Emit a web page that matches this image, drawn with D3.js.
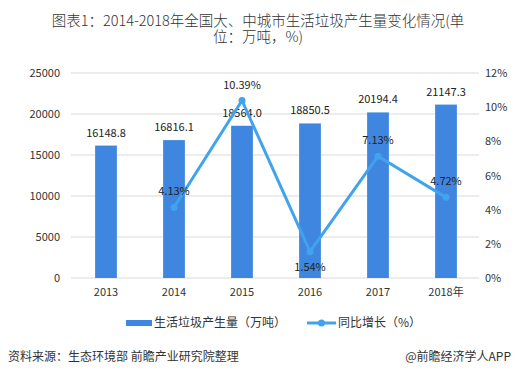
<!DOCTYPE html>
<html><head><meta charset="utf-8">
<script src="https://cdn.jsdelivr.net/npm/d3@7"></script>
<style>body{margin:0;background:#fff;}svg{display:block;font-family:"Microsoft YaHei","Noto Sans CJK SC",sans-serif;}</style>
</head><body>
<svg id="c" width="517" height="380"></svg>
<script>
const categories = ["2013","2014","2015","2016","2017","2018年"];
const garbage = [16148.8,16816.1,18564.0,18850.5,20194.4,21147.3];
const growth = [null,4.13,10.39,1.54,7.13,4.72];
const leftTicks = [0,5000,10000,15000,20000,25000];
const rightTicks = [0,2,4,6,8,10,12];
const titleLines = ["图表1：2014-2018年全国大、中城市生活垃圾产生量变化情况(单","位：万吨，%)"];
const growthLabelPos = [null,"above","above","below","above","above"];

const svg = d3.select("#c");
const x = d3.scaleBand().domain(categories).range([72,480]).paddingInner(0.68).paddingOuter(0.34);
const yL = d3.scaleLinear().domain([0,25000]).range([278,73]);
const yR = d3.scaleLinear().domain([0,12]).range([278,73]);
const FONT = "'Microsoft YaHei','Noto Sans CJK SC',sans-serif";

// title
svg.append("g").selectAll("text").data(titleLines).join("text")
  .attr("x",258).attr("y",(d,i)=>26+i*16)
  .attr("text-anchor","middle").attr("fill","#333").attr("font-size",14.5).attr("font-weight",300)
  .text(d=>d);

// grid
svg.append("g").selectAll("line").data(leftTicks).join("line")
  .attr("x1",71).attr("x2",479).attr("y1",d=>yL(d)).attr("y2",d=>yL(d))
  .attr("stroke","#d9d9d9").attr("stroke-width",1);

// left axis
const la = svg.append("g").attr("transform","translate(60,0)")
  .call(d3.axisLeft(yL).tickValues(leftTicks).tickFormat(d3.format("d")).tickSize(0).tickPadding(0));
la.select(".domain").remove();
la.selectAll("text").attr("font-size",11).attr("fill","#333").attr("font-family",FONT);

// right axis
const ra = svg.append("g").attr("transform","translate(485,0)")
  .call(d3.axisRight(yR).tickValues(rightTicks).tickFormat(d=>d+"%").tickSize(0).tickPadding(0));
ra.select(".domain").remove();
ra.selectAll("text").attr("font-size",11).attr("fill","#333").attr("font-family",FONT);

// x labels
const xa = svg.append("g").attr("transform","translate(0,283)")
  .call(d3.axisBottom(x).tickSize(0).tickPadding(5));
xa.select(".domain").remove();
xa.selectAll("text").attr("font-size",11).attr("fill","#333").attr("font-family",FONT);

const barColor = "#3f86e0", lineColor = "#41a3ec";

// bars
svg.append("g").selectAll("rect").data(garbage).join("rect")
  .attr("x",(d,i)=>x(categories[i])).attr("width",x.bandwidth())
  .attr("y",d=>yL(d)).attr("height",d=>yL(0)-yL(d)).attr("fill",barColor);
svg.append("g").selectAll("text").data(garbage).join("text")
  .attr("x",(d,i)=>x(categories[i])+x.bandwidth()/2).attr("y",d=>yL(d)-9)
  .attr("text-anchor","middle").attr("font-size",11).attr("fill","#222")
  .text(d=>d.toFixed(1));

// line
const pts = growth.map((v,i)=>({v,i})).filter(d=>d.v!==null);
const cx = d=>x(categories[d.i])+x.bandwidth()/2;
svg.append("path").datum(pts)
  .attr("d",d3.line().x(cx).y(d=>yR(d.v)))
  .attr("fill","none").attr("stroke",lineColor).attr("stroke-width",3).attr("stroke-linejoin","round");
svg.append("g").selectAll("circle").data(pts).join("circle")
  .attr("cx",cx).attr("cy",d=>yR(d.v)).attr("r",3.5).attr("fill",lineColor);
svg.append("g").selectAll("text").data(pts).join("text")
  .attr("x",cx).attr("y",d=>growthLabelPos[d.i]==="below"?yR(d.v)+19:yR(d.v)-12)
  .attr("text-anchor","middle").attr("font-size",11).attr("fill","#222")
  .text(d=>d.v.toFixed(2)+"%");

// legend
const lg = svg.append("g");
lg.append("rect").attr("x",126).attr("y",320).attr("width",26).attr("height",6).attr("fill",barColor);
lg.append("text").attr("x",154).attr("y",327).attr("font-size",12).attr("fill","#333").text("生活垃圾产生量（万吨）");
lg.append("line").attr("x1",307).attr("x2",336).attr("y1",323).attr("y2",323).attr("stroke",lineColor).attr("stroke-width",3);
lg.append("circle").attr("cx",321.5).attr("cy",323).attr("r",3.5).attr("fill",lineColor);
lg.append("text").attr("x",338).attr("y",327).attr("font-size",12).attr("fill","#333").text("同比增长（%）");

// source
svg.append("text").attr("x",8).attr("y",361).attr("font-size",12).attr("fill","#333").text("资料来源：生态环境部 前瞻产业研究院整理");
svg.append("text").attr("x",511).attr("y",361).attr("text-anchor","end").attr("font-size",12).attr("fill","#333").text("@前瞻经济学人APP");
</script>
</body></html>
